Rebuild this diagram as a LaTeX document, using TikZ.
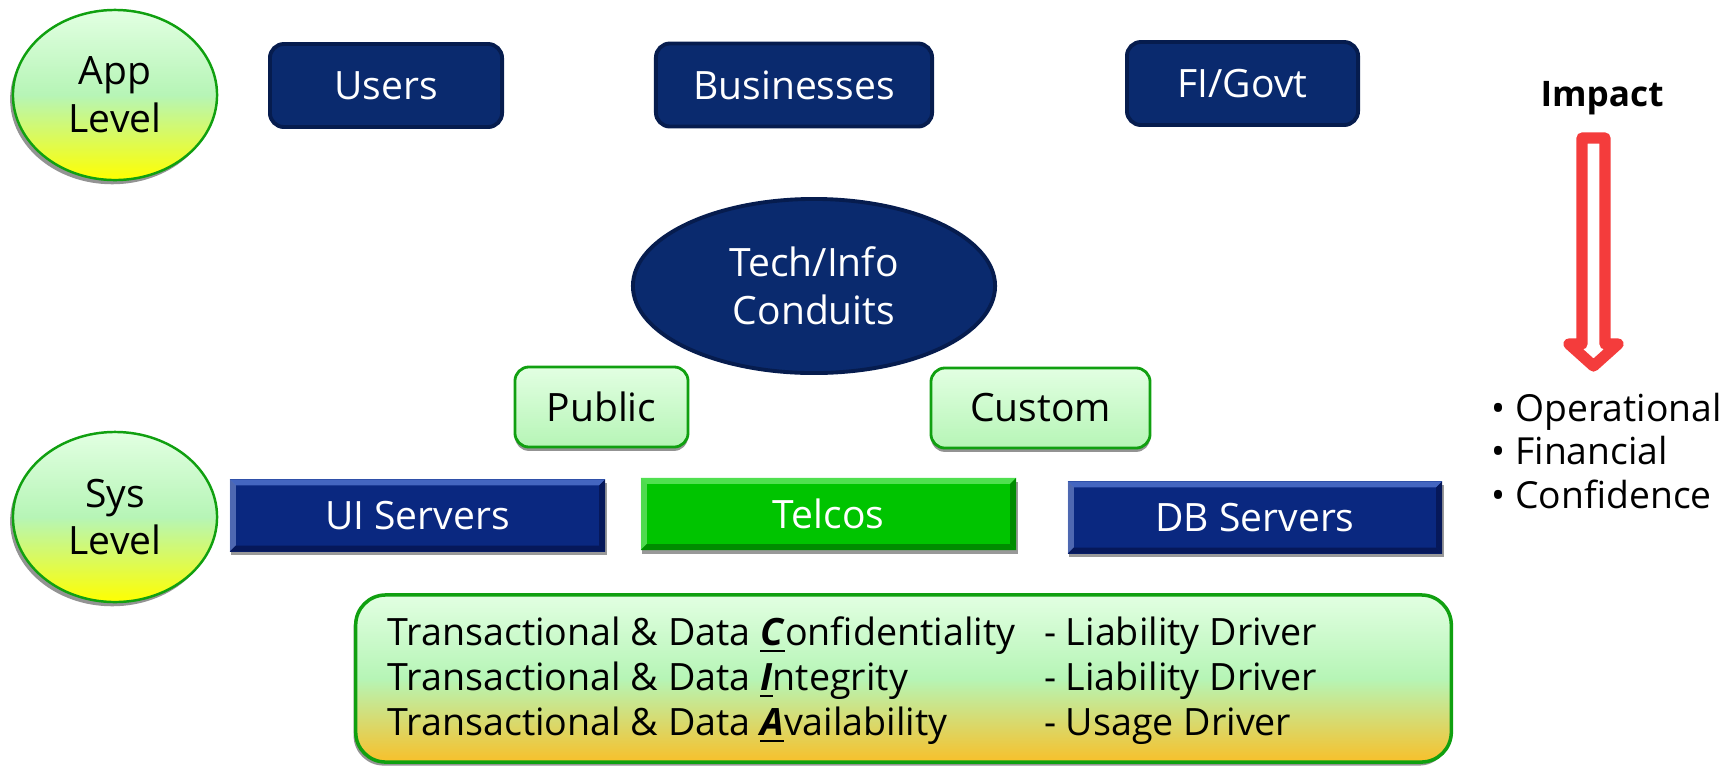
\documentclass[tikz,border=0pt]{standalone}
\usepackage{fontspec}
\setmainfont{Open Sans}
\usetikzlibrary{shapes.geometric,shadows}
\definecolor{navy}{HTML}{0A2A6E}
\definecolor{navyborder}{HTML}{061C4E}
\definecolor{servnavy}{HTML}{0A2880}
\definecolor{servlight}{HTML}{4466C0}
\definecolor{servdark}{HTML}{06185A}
\definecolor{telgreen}{HTML}{00C400}
\definecolor{tellight}{HTML}{50E050}
\definecolor{teldark}{HTML}{008C00}
\definecolor{lgtop}{HTML}{E2FFE2}
\definecolor{lgmid}{HTML}{B6F5B6}
\definecolor{lgborder}{HTML}{10A010}
\definecolor{ylw}{HTML}{FFFF00}
\definecolor{orng}{HTML}{F8C02A}
\definecolor{arrowred}{HTML}{F43C3C}
\newcommand{\ciaLetter}[1]{\underline{\textbf{\textit{#1}}}}
\begin{document}
\begin{tikzpicture}[x=0.01cm,y=-0.01cm,
  txt/.style={font=\fontsize{11.1}{13.6}\selectfont},
  levelell/.style={ellipse, draw=lgborder, line width=0.7pt, top color=lgtop, bottom color=ylw, middle color=lgmid,
     align=center, inner sep=0pt, txt, minimum width=2.04cm, minimum height=1.70cm,
     drop shadow={shadow xshift=-0.8pt, shadow yshift=-1.2pt, fill=gray!85, opacity=1}},
  topbox/.style={rectangle, rounded corners=0.14cm, fill=navy, draw=navyborder, line width=1.1pt,
     text=white, txt, minimum height=0.83cm, inner sep=0pt},
  greenbox/.style={rectangle, rounded corners=0.14cm, draw=lgborder, line width=0.8pt, top color=lgtop, bottom color=lgmid,
     txt, minimum height=0.80cm, inner sep=0pt,
     drop shadow={shadow xshift=0pt, shadow yshift=-1.1pt, fill=gray!85, opacity=1}},
  bevel/.style n args={2}{path picture={
     \fill[#1] (path picture bounding box.north west) -- (path picture bounding box.north east)
        -- ([xshift=-1.7pt,yshift=-1.7pt]path picture bounding box.north east)
        -- ([xshift=1.7pt,yshift=-1.7pt]path picture bounding box.north west) -- cycle;
     \fill[#1!70!white, opacity=0.6] (path picture bounding box.north west) -- (path picture bounding box.south west)
        -- ([xshift=1.7pt,yshift=1.7pt]path picture bounding box.south west)
        -- ([xshift=1.7pt,yshift=-1.7pt]path picture bounding box.north west) -- cycle;
     \fill[#2] (path picture bounding box.south west) -- (path picture bounding box.south east)
        -- ([xshift=-1.7pt,yshift=1.7pt]path picture bounding box.south east)
        -- ([xshift=1.7pt,yshift=1.7pt]path picture bounding box.south west) -- cycle;
     \fill[#2] (path picture bounding box.north east) -- (path picture bounding box.south east)
        -- ([xshift=-1.7pt,yshift=1.7pt]path picture bounding box.south east)
        -- ([xshift=-1.7pt,yshift=-1.7pt]path picture bounding box.north east) -- cycle;
  }},
  servbox/.style={rectangle, fill=servnavy, text=white, txt, minimum height=0.72cm, inner sep=0pt,
     bevel={servlight}{servdark},
     drop shadow={shadow xshift=0.4pt, shadow yshift=-1.0pt, fill=gray!80, opacity=1}},
  telbox/.style={rectangle, fill=telgreen, text=white, txt, minimum height=0.72cm, inner sep=0pt,
     bevel={tellight}{teldark},
     drop shadow={shadow xshift=0.4pt, shadow yshift=-1.0pt, fill=gray!80, opacity=1}},
]
\useasboundingbox (0,0) rectangle (1733,766);

% level ellipses
\node[levelell] (app) at (115,95) {App\\Level};
\node[levelell] (sys) at (115,517) {Sys\\Level};

% application level boxes
\node[topbox, minimum width=2.32cm] (users) at (386,85.5) {Users};
\node[topbox, minimum width=2.76cm] (biz) at (794,85) {Businesses};
\node[topbox, minimum width=2.31cm] (figov) at (1242.5,83.5) {FI/Govt};

% conduits
\node[ellipse, fill=navy, draw=navyborder, line width=1.1pt, text=white, txt, align=center,
      inner sep=0pt, minimum width=3.62cm, minimum height=1.74cm] (tech) at (814,286) {Tech/Info\\Conduits};

\node[greenbox, minimum width=1.73cm] (public) at (601.5,407) {Public};
\node[greenbox, minimum width=2.19cm] (custom) at (1040.5,408) {Custom};

% system level
\node[servbox, minimum width=3.75cm] (ui) at (417.5,515.5) {UI Servers};
\node[telbox, minimum width=3.75cm] (telcos) at (828.5,514) {Telcos};
\node[servbox, minimum width=3.74cm] (db) at (1255,517.5) {DB Servers};

% CIA box
\node[rectangle, rounded corners=0.3cm, draw=lgborder, line width=1pt, top color=lgtop, bottom color=orng, middle color=lgmid,
      minimum width=10.95cm, minimum height=1.67cm, inner sep=0pt,
      drop shadow={shadow xshift=-0.6pt, shadow yshift=-1.0pt, fill=gray!85, opacity=1}] (cia) at (903.5,678.5) {};
\node[anchor=west, align=left, inner sep=0pt, font=\fontsize{10.7}{12.8}\selectfont] (ciatext) at (387,681)
  {\makebox[6.56cm][l]{Transactional \& Data \ciaLetter{C}onfidentiality}- Liability Driver\\
   \makebox[6.56cm][l]{Transactional \& Data \ciaLetter{I}ntegrity}- Liability Driver\\
   \makebox[6.56cm][l]{Transactional \& Data \ciaLetter{A}vailability}- Usage Driver};

% impact
\node[font=\fontsize{10}{12}\selectfont\bfseries] (impact) at (1602,98) {Impact};
\draw[arrowred, line width=3.2pt, line join=round, fill=white]
  (1582,138) -- (1605,138) -- (1605,344) -- (1618,344) -- (1593.5,366) -- (1569,344) -- (1582,344) -- cycle;
\node[anchor=west, align=left, inner sep=0pt, font=\fontsize{10.6}{12.5}\selectfont] (effects) at (1491,451)
  {• Operational\\ • Financial\\ • Confidence};
\end{tikzpicture}
\end{document}
